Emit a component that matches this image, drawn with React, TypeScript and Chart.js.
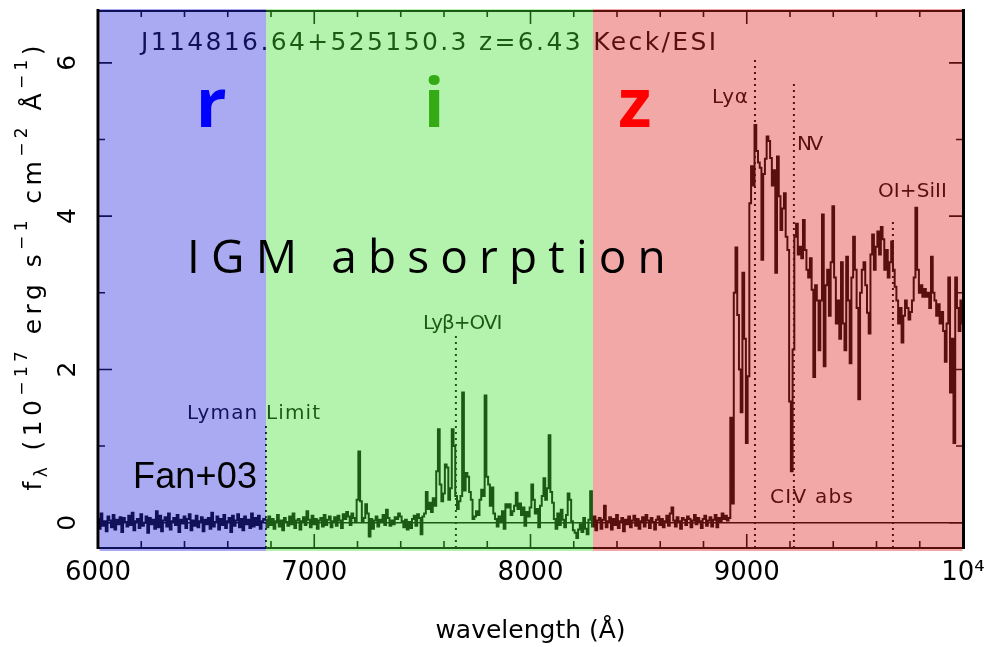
import React, { useEffect, useRef } from 'react';
import { Chart, registerables } from 'chart.js';

Chart.register(...registerables);

// Keck/ESI spectrum of J114816.64+525150.3 (z = 6.43); flux in 1e-17 erg s^-1 cm^-2 Å^-1
const WAVE_START = 6000; // Å, first bin
const WAVE_STEP = 8; // Å per bin
const FLUX: number[] = [
  // r band (6000-6776 Å): fully absorbed
  0.05, -0.08, 0.12, -0.04, 0.02, -0.11, 0.08, 0.03, -0.06, 0.10,
  -0.09, 0.04, -0.02, 0.07, -0.12, 0.06, 0.01, -0.05, 0.09, -0.03,
  0.13, -0.10, 0.02, 0.05, -0.07, 0.11, -0.04, 0.00, 0.08, -0.13,
  0.06, -0.02, 0.04, -0.08, 0.15, -0.06, 0.09, -0.11, 0.03, 0.07,
  -0.05, 0.12, -0.09, 0.02, 0.06, -0.03, 0.10, -0.12, 0.04, -0.01,
  0.08, -0.07, 0.05, 0.11, -0.10, 0.03, -0.04, 0.09, -0.06, 0.02,
  0.07, -0.11, 0.04, -0.02, 0.06, -0.08, 0.13, -0.05, 0.01, 0.08,
  -0.09, 0.05, -0.03, 0.10, -0.07, 0.02, 0.06, -0.12, 0.09, -0.04,
  0.03, 0.11, -0.06, 0.05, -0.10, 0.08, -0.02, 0.04, -0.07, 0.12,
  -0.05, 0.06, -0.03, 0.09, -0.08, 0.02, 0.05,
  // i band (6776-8280 Å): transmission spikes in the Lyβ forest
  0.04, -0.06, 0.08,
  -0.03, 0.05, -0.08, 0.02, 0.10, -0.05, 0.03, -0.10, 0.06, 0.01,
  -0.04, 0.08, -0.02, 0.12, -0.07, 0.03, 0.05, -0.09, 0.02, 0.07,
  -0.03, 0.15, 0.04, -0.06, 0.09, -0.02, 0.05, -0.08, 0.03, 0.06,
  -0.05, 0.10, -0.03, 0.04, 0.08, -0.06, 0.02, 0.07, -0.04, 0.09,
  0.03, -0.07, 0.11, 0.05, 0.14, 0.08, -0.03, 0.12, 0.06, 0.02,
  0.30, 0.93, 0.28, 0.02, 0.06, 0.24, 0.12, -0.18, 0.05, -0.08,
  0.03, 0.08, -0.05, 0.04, 0.02, 0.10, -0.03, 0.17, 0.06, -0.04,
  0.03, -0.02, 0.07, 0.05, 0.12, 0.08, 0.02, -0.06, 0.04, -0.09,
  0.01, -0.07, 0.05, 0.09, -0.04, 0.11, 0.06, -0.15, 0.08, 0.12,
  0.40, 0.18, 0.26, 0.14, 0.32, 0.22, 0.67, 1.22, 0.50, 0.28,
  0.38, 0.76, 0.72, 0.30, 0.45, 1.22, 1.00, 0.35, 0.18, 0.28,
  0.35, 1.70, 0.42, 0.65, 0.60, 0.40, 0.30, 0.05, 0.08, 0.15,
  0.10, 0.30, 0.43, 0.35, 1.66, 0.60, 0.50, 0.22, 0.46, 0.12,
  0.05, -0.05, 0.08, 0.02, 0.15, -0.08, 0.24, 0.20, 0.24, 0.10,
  0.15, 0.22, 0.39, 0.18, 0.25, 0.10, 0.20, -0.04, 0.14, 0.08,
  0.20, 0.50, 0.30, 0.12, 0.18, -0.06, 0.22, 0.35, 0.58, 0.30,
  0.45, 1.14, 0.40, 0.26, 0.05, -0.08, 0.12, -0.03, 0.17, 0.04,
  -0.06, 0.10, 0.38, 0.30, 0.02, -0.10, -0.13, -0.20, -0.09, -0.02,
  -0.12, 0.06, -0.08, -0.15, 0.04, 0.41,
  // z band, Gunn-Peterson trough (8288-8920 Å)
  -0.05, 0.08, -0.10, 0.03, 0.06, -0.08, 0.04, 0.22, -0.06, 0.02,
  0.07, -0.09, 0.05, -0.03, 0.10, -0.07, 0.02, 0.06, -0.11, 0.04,
  -0.02, 0.08, -0.06, 0.03, 0.09, -0.04, 0.05, -0.08, 0.02, 0.07,
  -0.05, 0.10, 0.03, -0.07, 0.06, 0.01, -0.09, 0.04, 0.08, -0.03,
  0.05, -0.06, 0.02, 0.09, -0.04, 0.12, 0.20, 0.03, -0.05, 0.07,
  0.02, -0.08, 0.06, 0.04, -0.03, 0.08, 0.05, -0.06, 0.03, 0.10,
  -0.02, 0.06, 0.02, -0.07, 0.05, 0.09, -0.04, 0.03, 0.07, -0.05,
  0.04, 0.10, -0.06, 0.06, 0.02, 0.12, 0.05, 0.09, 0.03, 0.06,
  // z band, Lyα/NV emission and red continuum (8928-10000 Å)
  1.37, 0.25, 3.00, 3.59,
  2.71, 2.00, 1.44, 3.26, 2.40, 1.04, 1.91, 4.17, 4.65, 4.40,
  5.19, 4.85, 4.70, 4.63, 3.43, 4.55, 4.75, 5.04, 4.98, 4.76,
  4.40, 4.60, 3.26, 4.78, 4.26, 3.82, 4.10, 4.30, 3.73, 3.56,
  1.58, 0.67, 2.26, 3.73, 3.90, 3.50, 3.60, 3.45, 3.95, 3.56,
  3.30, 3.20, 3.45, 3.04, 1.90, 3.10, 2.90, 2.25, 2.90, 4.02,
  2.04, 3.10, 3.30, 2.70, 3.40, 4.13, 3.20, 2.60, 2.90, 2.40,
  3.40, 2.60, 2.25, 3.47, 2.90, 2.08, 3.20, 3.73, 3.30, 2.80,
  1.61, 3.00, 3.30, 3.40, 3.10, 2.74, 2.47, 3.50, 3.76, 3.30,
  3.60, 3.80, 3.50, 3.86, 3.70, 3.30, 3.56, 3.20, 3.40, 3.67,
  3.30, 3.08, 2.90, 2.60, 2.80, 2.35, 2.70, 2.90, 2.80, 2.65,
  2.75, 2.90, 3.20, 4.11, 3.30, 3.00, 3.10, 2.95, 3.05, 2.95,
  3.00, 2.80, 3.47, 3.00, 2.90, 2.70, 2.85, 2.60, 2.75, 2.50,
  2.10, 2.60, 3.20, 1.70, 2.40, 1.04, 3.20, 2.80, 2.50, 2.90,
  2.60,
];

// Axes
const X_MIN = 6000;
const X_MAX = 10000;
const Y_MIN = -0.33;
const Y_MAX = 6.69;
const X_TICKS = [6000, 7000, 8000, 9000, 10000];
const X_TICK_LABELS = ['6000', '7000', '8000', '9000', '10⁴'];
const X_MINOR_STEP = 200;
const Y_TICKS = [0, 2, 4, 6];
const Y_MINOR_TICKS = [1, 3, 5];

// SDSS filter bands covering the spectrum
const BAND_NAMES = ['r', 'i', 'z'];
const BAND_EDGES = [6000, 6777, 8289, 10000];

// Marked spectral features (rest lines redshifted to z = 6.43)
const LINE_WAVES = [6777, 7655, 9038, 9218, 9676];
const LINE_TOPS = [1.27, 2.48, 6.04, 5.74, 3.95];

// Styling
const BAND_TINTS = ['rgba(42,42,222,0.4)', 'rgba(67,225,52,0.4)', 'rgba(225,38,38,0.4)'];
const BAND_NAME_COLORS = ['#0000ff', '#34aa14', '#ff0000'];
const BAND_NAME_WAVES = [6523, 7554, 8483];
const BAND_NAME_Y = 5.16;
const PLOT_FONT = '"DejaVu Sans", sans-serif';

const HEADER = { text: 'J114816.64+525150.3 z=6.43 Keck/ESI', from: 6199, to: 8858, y: 6.17 };
const FEATURE_LABELS = [
  { text: 'Lyman Limit', from: 6412, to: 7027, y: 1.35 },
  { text: 'Lyβ+OVI', from: 7503, to: 7870, y: 2.53 },
  { text: 'Lyα', from: 8839, to: 9006, y: 5.48 },
  { text: 'NV', from: 9232, to: 9353, y: 4.86 },
  { text: 'OI+SiII', from: 9607, to: 9926, y: 4.25 },
  { text: 'CIV abs', from: 9108, to: 9491, y: 0.26 },
];

function fitText(ctx: CanvasRenderingContext2D, text: string, x0: number, x1: number, baseline: number) {
  (ctx as any).letterSpacing = '0px';
  const n = Array.from(text).length;
  const natural = ctx.measureText(text).width;
  const spacing = n > 1 ? (x1 - x0 - natural) / (n - 1) : 0;
  (ctx as any).letterSpacing = `${spacing}px`;
  ctx.textAlign = 'left';
  ctx.textBaseline = 'alphabetic';
  ctx.fillText(text, x0, baseline);
  (ctx as any).letterSpacing = '0px';
}

// f_λ axis title with sub- and superscripts, rotated to read upwards
function drawFluxTitle(ctx: CanvasRenderingContext2D, baseX: number, centerY: number, length: number) {
  const parts: [string, number][] = [
    ['f', 0], ['λ', 1], [' (10', 0], ['−17', 2], [' erg s', 0], ['−1', 2],
    [' cm', 0], ['−2', 2], [' Å', 0], ['−1', 2], [')', 0],
  ];
  const fonts = [`25px ${PLOT_FONT}`, `17px ${PLOT_FONT}`, `17px ${PLOT_FONT}`];
  const shifts = [0, 6, -14];
  let natural = 0;
  let count = 0;
  for (const [t, k] of parts) {
    ctx.font = fonts[k];
    for (const ch of Array.from(t)) {
      natural += ctx.measureText(ch).width;
      count += 1;
    }
  }
  const gap = (length - natural) / (count - 1);
  ctx.save();
  ctx.translate(baseX, centerY);
  ctx.rotate(-Math.PI / 2);
  ctx.fillStyle = '#000';
  ctx.textAlign = 'left';
  ctx.textBaseline = 'alphabetic';
  let pos = -length / 2;
  for (const [t, k] of parts) {
    ctx.font = fonts[k];
    for (const ch of Array.from(t)) {
      ctx.fillText(ch, pos, shifts[k]);
      pos += ctx.measureText(ch).width + gap;
    }
  }
  ctx.restore();
}

const decor = {
  id: 'decor',
  afterDatasetsDraw(chart: any) {
    const { ctx, chartArea: a } = chart;
    const xs = chart.scales.x;
    const ys = chart.scales.y;
    ctx.save();
    ctx.strokeStyle = '#000';
    ctx.fillStyle = '#000';

    // top and bottom frame
    ctx.lineWidth = 2;
    ctx.beginPath();
    ctx.moveTo(a.left, a.top + 1);
    ctx.lineTo(a.right, a.top + 1);
    ctx.moveTo(a.left, a.bottom);
    ctx.lineTo(a.right, a.bottom);
    ctx.stroke();

    // inward tick marks on all four sides
    ctx.lineWidth = 1.6;
    ctx.beginPath();
    for (let v = X_MIN + X_MINOR_STEP; v < X_MAX; v += X_MINOR_STEP) {
      const px = xs.getPixelForValue(v);
      const len = X_TICKS.includes(v) ? 14 : 7;
      ctx.moveTo(px, a.bottom);
      ctx.lineTo(px, a.bottom - len);
      ctx.moveTo(px, a.top);
      ctx.lineTo(px, a.top + len);
    }
    const yMarks = [...Y_TICKS.map((v) => [v, 14]), ...Y_MINOR_TICKS.map((v) => [v, 7])];
    for (const [v, len] of yMarks) {
      const py = ys.getPixelForValue(v);
      ctx.moveTo(a.left, py);
      ctx.lineTo(a.left + len, py);
      ctx.moveTo(a.right, py);
      ctx.lineTo(a.right - len, py);
    }
    ctx.stroke();

    // header and feature labels
    ctx.font = `25px ${PLOT_FONT}`;
    fitText(ctx, HEADER.text, xs.getPixelForValue(HEADER.from), xs.getPixelForValue(HEADER.to), ys.getPixelForValue(HEADER.y));
    ctx.font = `20px ${PLOT_FONT}`;
    for (const l of FEATURE_LABELS) {
      fitText(ctx, l.text, xs.getPixelForValue(l.from), xs.getPixelForValue(l.to), ys.getPixelForValue(l.y));
    }

    // filter band tints laid over the plot
    for (let k = 0; k < BAND_NAMES.length; k++) {
      const x0 = Math.max(xs.getPixelForValue(BAND_EDGES[k]), a.left + 1.5);
      const x1 = Math.min(xs.getPixelForValue(BAND_EDGES[k + 1]), a.right - 0.5);
      ctx.fillStyle = BAND_TINTS[k];
      ctx.fillRect(x0, a.top - 1, x1 - x0, a.bottom - a.top + 4);
    }

    // left and right axis lines
    ctx.fillStyle = '#000';
    ctx.fillRect(a.left - 1.5, a.top - 1, 3, a.bottom - a.top + 2);
    ctx.fillRect(a.right - 1, a.top - 1, 3, a.bottom - a.top + 2);
    ctx.restore();
  },
  afterDraw(chart: any) {
    const { ctx } = chart;
    const xs = chart.scales.x;
    const ys = chart.scales.y;
    ctx.save();
    drawFluxTitle(ctx, 41, 268, 445);

    ctx.textAlign = 'center';
    ctx.textBaseline = 'alphabetic';
    ctx.font = 'bold 68px "Open Sans", sans-serif';
    for (let k = 0; k < BAND_NAMES.length; k++) {
      ctx.fillStyle = BAND_NAME_COLORS[k];
      ctx.fillText(BAND_NAMES[k], xs.getPixelForValue(BAND_NAME_WAVES[k]), ys.getPixelForValue(BAND_NAME_Y));
    }

    ctx.fillStyle = '#000';
    ctx.font = '46px "Open Sans", sans-serif';
    fitText(ctx, 'IGM absorption', xs.getPixelForValue(6412), xs.getPixelForValue(8625), ys.getPixelForValue(3.26));

    ctx.font = '36px "Liberation Sans", Arial, sans-serif';
    fitText(ctx, 'Fan+03', xs.getPixelForValue(6162), xs.getPixelForValue(6735), ys.getPixelForValue(0.45));
    ctx.restore();
  },
};

export default function App() {
  const ref = useRef<HTMLCanvasElement>(null);

  useEffect(() => {
    const canvas = ref.current;
    if (!canvas) return;
    const spectrum = FLUX.map((f, k) => ({ x: WAVE_START + k * WAVE_STEP, y: f }));
    const markers = LINE_WAVES.map((w, k) => ({
      label: `line${k}`,
      data: [{ x: w, y: Y_MIN }, { x: w, y: LINE_TOPS[k] }],
      borderColor: '#000',
      borderWidth: 2,
      borderDash: [2, 4],
      pointRadius: 0,
      fill: false,
    }));

    const chart = new Chart(canvas, {
      type: 'line',
      data: {
        datasets: [
          {
            label: 'flux',
            data: spectrum,
            borderColor: '#000',
            borderWidth: 2,
            pointRadius: 0,
            stepped: 'middle',
            fill: false,
          },
          {
            label: 'zero',
            data: [{ x: X_MIN, y: 0 }, { x: X_MAX, y: 0 }],
            borderColor: '#000',
            borderWidth: 1.6,
            pointRadius: 0,
            fill: false,
          },
          ...markers,
        ],
      } as any,
      options: {
        animation: false,
        responsive: false,
        maintainAspectRatio: false,
        events: [],
        layout: { padding: { left: 0, right: 25, top: 10, bottom: 0 } },
        elements: { line: { tension: 0 } },
        plugins: { legend: { display: false }, tooltip: { enabled: false } },
        scales: {
          x: {
            type: 'linear',
            min: X_MIN,
            max: X_MAX,
            grid: { display: false, drawTicks: false },
            border: { display: false },
            afterBuildTicks: (s: any) => {
              s.ticks = X_TICKS.map((value) => ({ value }));
            },
            ticks: {
              autoSkip: false,
              includeBounds: false,
              minRotation: 0,
              maxRotation: 0,
              padding: 10,
              color: '#000',
              font: { family: PLOT_FONT, size: 26 },
              callback: (_v: any, i: number) => X_TICK_LABELS[i],
            },
            title: {
              display: true,
              text: 'wavelength (Å)',
              color: '#000',
              font: { family: PLOT_FONT, size: 25 },
              padding: { top: 0, bottom: 1 },
            },
            afterFit: (s: any) => {
              s.height = 99;
              s.paddingLeft = 0;
              s.paddingRight = 0;
              s.paddingTop = 0;
              s.paddingBottom = 0;
            },
          },
          y: {
            type: 'linear',
            min: Y_MIN,
            max: Y_MAX,
            grid: { display: false, drawTicks: false },
            border: { display: false },
            afterBuildTicks: (s: any) => {
              s.ticks = Y_TICKS.map((value) => ({ value }));
            },
            ticks: {
              includeBounds: false,
              minRotation: 90,
              maxRotation: 90,
              crossAlign: 'center',
              padding: 22,
              color: '#000',
              font: { family: PLOT_FONT, size: 25 },
              callback: (v: any) => String(v),
            },
            afterFit: (s: any) => {
              s.width = 98;
              s.paddingLeft = 0;
              s.paddingRight = 0;
              s.paddingTop = 0;
              s.paddingBottom = 0;
            },
          },
        },
      } as any,
      plugins: [decor],
    });
    return () => chart.destroy();
  }, []);

  return (
    <div style={{ position: 'absolute', left: 0, top: 0, width: 988, height: 647 }}>
      <canvas ref={ref} width={988} height={647} style={{ display: 'block' }} />
    </div>
  );
}
